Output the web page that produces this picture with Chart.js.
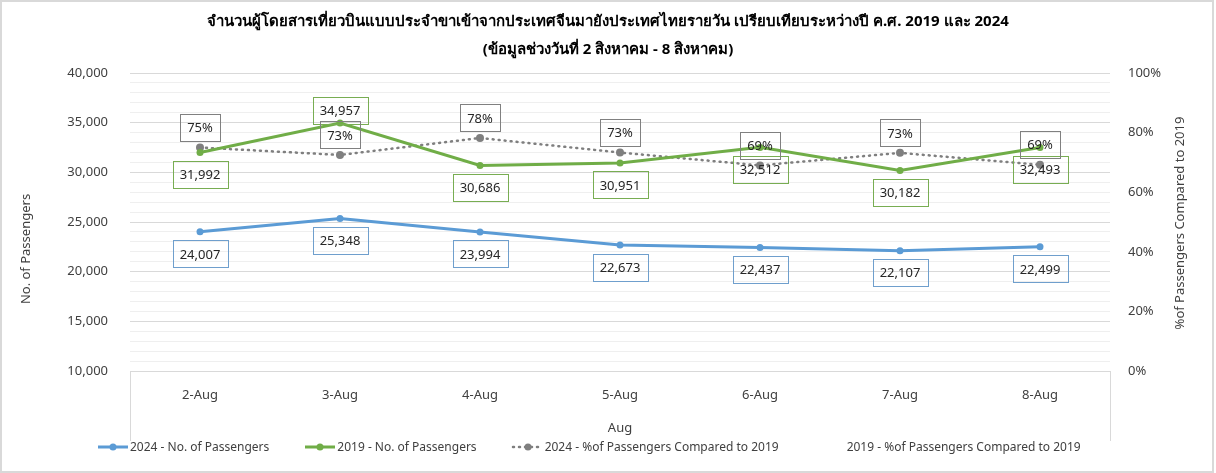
<!DOCTYPE html>
<html>
<head>
<meta charset="utf-8">
<script src="https://cdn.jsdelivr.net/npm/chart.js@4.4.1/dist/chart.umd.min.js"></script>
<style>
  html, body { margin: 0; padding: 0; background: #fff; }
  #wrap { position: relative; width: 1216px; height: 473px; }
  #legend {
    position: absolute; left: 96px; top: 439px;
    display: flex; gap: 34px; align-items: center;
    font: 12px "Noto Sans", "Liberation Sans", sans-serif; color: #404040; line-height: 16px;
  }
  #legend .item { display: flex; align-items: center; white-space: nowrap; }
  #legend svg { display: block; }
</style>
</head>
<body>
<div id="wrap">
  <canvas id="chart" width="1216" height="473"></canvas>
  <div id="legend"></div>
</div>
<script>
// data
const days = ['2-Aug', '3-Aug', '4-Aug', '5-Aug', '6-Aug', '7-Aug', '8-Aug'];
const pax2024 = [24007, 25348, 23994, 22673, 22437, 22107, 22499];
const pax2019 = [31992, 34957, 30686, 30951, 32512, 30182, 32493];
const pct2024 = [0.750, 0.725, 0.782, 0.733, 0.690, 0.732, 0.692];

const titleLines = [
  'จำนวนผู้โดยสารเที่ยวบินแบบประจำขาเข้าจากประเทศจีนมายังประเทศไทยรายวัน เปรียบเทียบระหว่างปี ค.ศ. 2019 และ 2024',
  '(ข้อมูลช่วงวันที่ 2 สิงหาคม - 8 สิงหาคม)'
];
const legendNames = [
  '2024 - No. of Passengers',
  '2019 - No. of Passengers',
  '2024 - %of Passengers Compared to 2019',
  '2019 - %of Passengers Compared to 2019'
];

const FONT = '"Noto Sans", "Liberation Sans", sans-serif';
const BLUE = '#5b9bd5', GREEN = '#70ad47', GREY = '#7f7f7f';

// boxed data labels, like the excel callouts
const boxLabels = {
  id: 'boxLabels',
  afterDatasetsDraw(chart) {
    const ctx = chart.ctx;
    ctx.save();
    ctx.font = '13px ' + FONT;
    ctx.textAlign = 'center';
    ctx.textBaseline = 'middle';
    chart.data.datasets.forEach((ds, i) => {
      if (!ds.boxColor) return;
      chart.getDatasetMeta(i).data.forEach((pt, j) => {
        const v = ds.data[j];
        const txt = ds.labelKind === 'pct' ? Math.round(v * 100) + '%' : v.toLocaleString('en-US');
        const w = Math.round(ctx.measureText(txt).width + 14), h = 27;
        const cx = pt.x, cy = pt.y + ds.labelDy[j];
        ctx.strokeStyle = ds.boxColor;
        ctx.lineWidth = 1;
        ctx.strokeRect(Math.round(cx - w / 2) + 0.5, Math.round(cy - h / 2) + 0.5, w, h);
        ctx.fillStyle = '#262626';
        ctx.fillText(txt, cx, cy + 1);
      });
    });
    ctx.restore();
  }
};

// axis titles, x-axis frame lines and the outer border
const decor = {
  id: 'decor',
  afterDraw(chart) {
    const ctx = chart.ctx, a = chart.chartArea;
    ctx.save();
    ctx.strokeStyle = '#d9d9d9';
    ctx.lineWidth = 1;
    ctx.beginPath();
    [a.left, a.right].forEach(x => {
      ctx.moveTo(Math.round(x) + 0.5, a.bottom);
      ctx.lineTo(Math.round(x) + 0.5, a.bottom + 70);
    });
    ctx.stroke();

    ctx.fillStyle = '#404040';
    ctx.font = '13px ' + FONT;
    ctx.textAlign = 'center';
    ctx.textBaseline = 'middle';
    ctx.save();
    ctx.translate(26, 249);
    ctx.rotate(-Math.PI / 2);
    ctx.fillText('No. of Passengers', 0, 0);
    ctx.restore();
    ctx.save();
    ctx.translate(1180, 223);
    ctx.rotate(-Math.PI / 2);
    ctx.fillText('%of Passengers Compared to 2019', 0, 0);
    ctx.restore();

    ctx.strokeStyle = '#d9d9d9';
    ctx.lineWidth = 2;
    ctx.strokeRect(1, 1, 1212, 471);
    ctx.restore();
  }
};

new Chart(document.getElementById('chart'), {
  type: 'line',
  data: {
    labels: days,
    datasets: [
      {
        label: legendNames[0], data: pax2024, yAxisID: 'y',
        borderColor: BLUE, backgroundColor: BLUE, borderWidth: 3,
        pointRadius: 3.5, pointBorderWidth: 0,
        boxColor: '#6f9fcd', labelKind: 'num', labelDy: [22, 22, 22, 22, 22, 22, 22]
      },
      {
        label: legendNames[1], data: pax2019, yAxisID: 'y',
        borderColor: GREEN, backgroundColor: GREEN, borderWidth: 3,
        pointRadius: 3.5, pointBorderWidth: 0,
        boxColor: '#78ad52', labelKind: 'num', labelDy: [22, -13, 22, 22, 22, 22, 22]
      },
      {
        label: legendNames[2], data: pct2024, yAxisID: 'y1',
        borderColor: GREY, backgroundColor: GREY, borderWidth: 2.5,
        borderDash: [1, 5], borderCapStyle: 'round',
        pointRadius: 4, pointBorderWidth: 0,
        boxColor: '#808080', labelKind: 'pct', labelDy: [-20, -20, -20, -20, -20, -20, -20]
      },
      {
        label: legendNames[3], data: [], yAxisID: 'y1',
        borderColor: 'transparent', pointRadius: 0
      }
    ]
  },
  options: {
    responsive: false,
    animation: false,
    layout: { padding: { top: 0, left: 0, right: 0, bottom: 37 } },
    plugins: {
      legend: { display: false },
      tooltip: { enabled: false },
      title: {
        display: true,
        text: titleLines,
        color: '#000',
        font: { family: FONT, size: 15, weight: 'bold', lineHeight: '28px' },
        padding: { top: 8, bottom: 9 }
      }
    },
    scales: {
      x: {
        offset: true,
        grid: { display: false },
        border: { display: false },
        ticks: { color: '#404040', font: { family: FONT, size: 13 }, padding: 8 },
        title: { display: true, text: 'Aug', color: '#404040', font: { family: FONT, size: 13 }, padding: { top: 0, bottom: 0 } },
        afterFit(s) { s.height = 65; }
      },
      y: {
        position: 'left',
        min: 10000, max: 40000,
        border: { display: false },
        grid: {
          drawTicks: false,
          color: c => (c.tick && c.tick.value % 5000 === 0) ? '#d9d9d9' : '#efefef'
        },
        ticks: {
          stepSize: 1000, autoSkip: false, padding: 22,
          color: '#404040', font: { family: FONT, size: 13 },
          callback: v => v % 5000 === 0 ? v.toLocaleString('en-US') : ''
        },
        afterFit(s) { s.width = 130; }
      },
      y1: {
        position: 'right',
        min: 0, max: 1,
        border: { display: false },
        grid: { display: false, drawTicks: false },
        ticks: {
          stepSize: 0.2, padding: 18,
          color: '#404040', font: { family: FONT, size: 13 },
          callback: v => Math.round(v * 100) + '%'
        },
        afterFit(s) { s.width = 106; }
      }
    }
  },
  plugins: [boxLabels, decor]
});

// legend as html, markers like the excel line+marker swatches
const legendMarks = [
  { color: BLUE, dash: null, dot: true },
  { color: GREEN, dash: null, dot: true },
  { color: GREY, dash: '1 5', dot: true },
  { color: 'none', dash: null, dot: false }
];
const legendEl = document.getElementById('legend');
legendNames.forEach((name, i) => {
  const m = legendMarks[i];
  const item = document.createElement('div');
  item.className = 'item';
  let svg = '<svg width="34" height="10">';
  if (m.color !== 'none') {
    svg += `<line x1="2" y1="5" x2="32" y2="5" stroke="${m.color}" stroke-width="${m.dash ? 2.5 : 3}"` +
      (m.dash ? ` stroke-dasharray="${m.dash}" stroke-linecap="round"` : '') + '/>';
    if (m.dot) svg += `<circle cx="17" cy="5" r="3.5" fill="${m.color}"/>`;
  }
  svg += '</svg>';
  item.innerHTML = svg + `<span>${name}</span>`;
  legendEl.appendChild(item);
});
</script>
</body>
</html>
